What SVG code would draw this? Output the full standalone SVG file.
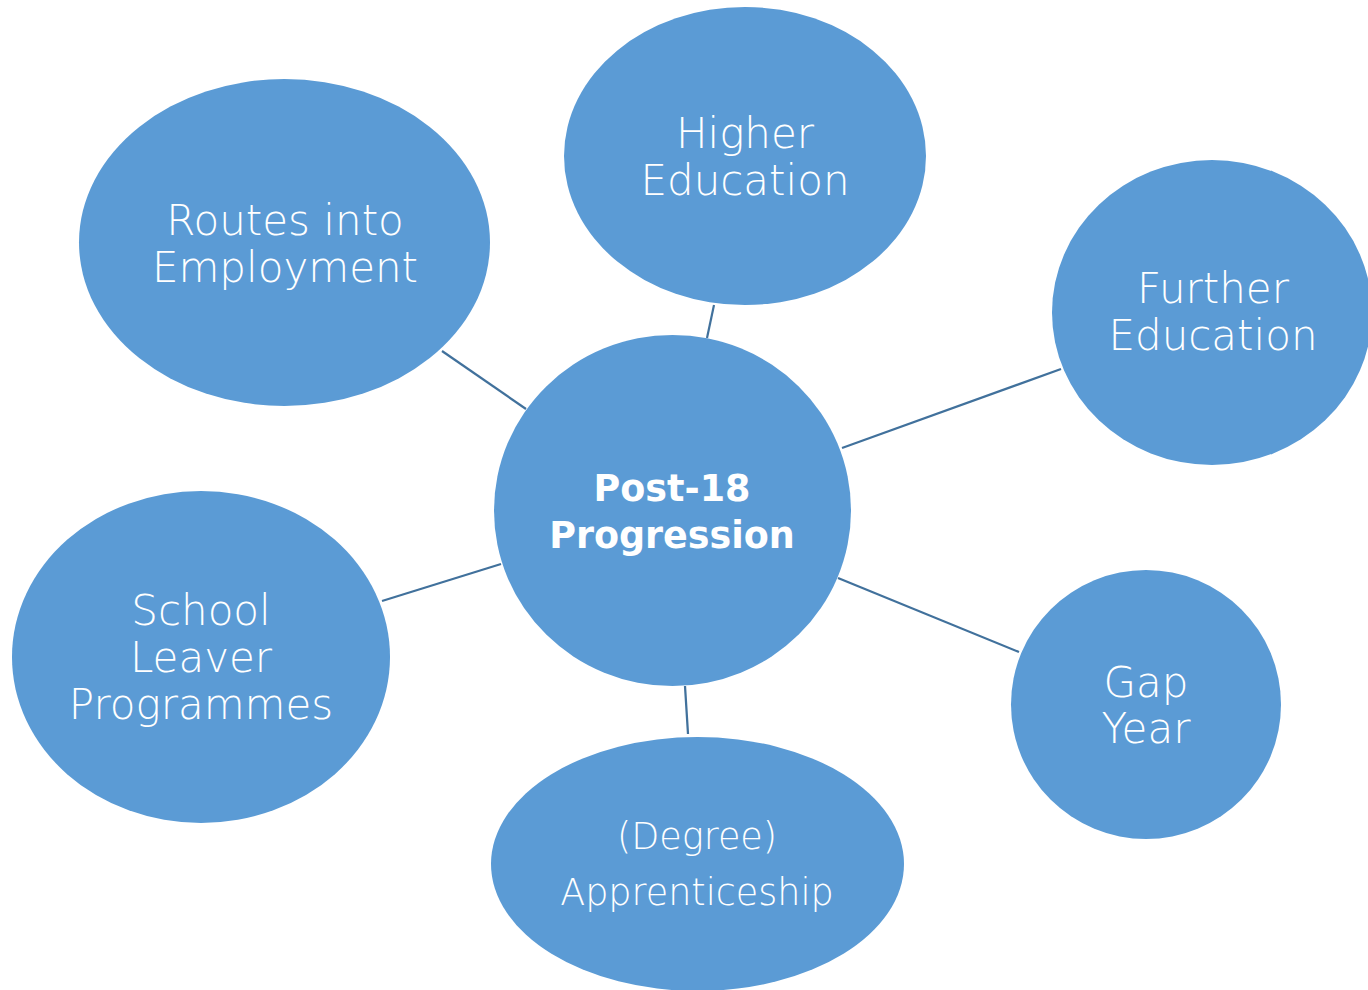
<svg xmlns="http://www.w3.org/2000/svg" width="1368" height="990" viewBox="0 0 1368 990">
<style>
.n{fill:#5B9BD5}
.c line{stroke:#41719C;stroke-width:2.2}
.t{font-family:"DejaVu Sans","Liberation Sans",sans-serif;font-weight:200;font-size:42px;fill:#fff;text-anchor:middle}
.s{font-size:36.5px}
.b{font-family:"DejaVu Sans","Liberation Sans",sans-serif;font-weight:bold;font-size:36.5px;fill:#fff;text-anchor:middle}
</style>
<rect width="1368" height="990" fill="#fff"/>
<g class="c">
<line x1="442" y1="351" x2="526" y2="409"/>
<line x1="714" y1="305" x2="707" y2="338"/>
<line x1="1061" y1="369" x2="842" y2="448"/>
<line x1="382" y1="601" x2="501" y2="564"/>
<line x1="838" y1="578" x2="1019" y2="652"/>
<line x1="685" y1="686" x2="688" y2="734"/>
</g>
<g id="routes"><ellipse class="n" cx="284.5" cy="242.5" rx="205.5" ry="163.5"/>
<text class="t" x="285" y="235">Routes into</text><text class="t" x="285" y="282">Employment</text></g>
<g id="higher"><ellipse class="n" cx="745" cy="156" rx="181" ry="149"/>
<text class="t" x="745" y="148">Higher</text><text class="t" x="745" y="195">Education</text></g>
<g id="further"><ellipse class="n" cx="1212" cy="312.5" rx="160" ry="152.5"/>
<text class="t" x="1213" y="303">Further</text><text class="t" x="1213" y="350">Education</text></g>
<g id="school"><ellipse class="n" cx="201" cy="657" rx="189" ry="166"/>
<text class="t" x="201" y="625">School</text><text class="t" x="201" y="672">Leaver</text><text class="t" x="201" y="719">Programmes</text></g>
<g id="gap"><ellipse class="n" cx="1146" cy="704.5" rx="135" ry="134.5"/>
<text class="t" x="1146" y="697">Gap</text><text class="t" x="1146" y="743">Year</text></g>
<g id="apprentice"><ellipse class="n" cx="697.5" cy="864" rx="206.5" ry="127"/>
<text class="t s" x="697" y="849">(Degree)</text><text class="t s" x="697" y="905">Apprenticeship</text></g>
<g id="center"><ellipse class="n" cx="672.5" cy="510.5" rx="178.5" ry="175.5"/>
<text class="b" x="672" y="501">Post-18</text><text class="b" x="672" y="548">Progression</text></g>
</svg>
